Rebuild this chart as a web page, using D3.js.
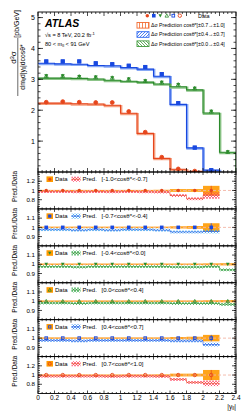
<!DOCTYPE html>
<html>
<head>
<meta charset="utf-8">
<script src="https://cdnjs.cloudflare.com/ajax/libs/d3/7.8.5/d3.min.js"></script>
<style>
  body { margin: 0; background: #fff; }
  text { font-family: "Liberation Sans", Arial, Helvetica, sans-serif; fill: #000; }
</style>
</head>
<body>
<svg id="chart" width="249" height="411"></svg>
<script>
// bin edges in |y_ll|
var edges = [0, 0.2, 0.4, 0.6, 0.8, 1.0, 1.2, 1.4, 1.6, 1.8, 2.0, 2.2, 2.4];
var xTicks = [0, 0.2, 0.4, 0.6, 0.8, 1.0, 1.2, 1.4, 1.6, 1.8, 2.0, 2.2, 2.4];
var xTickLabels = ["0", "0.2", "0.4", "0.6", "0.8", "1", "1.2", "1.4", "1.6", "1.8", "2", "2.2", "2.4"];
var mainYTicks = [1, 2, 3, 4, 5];

// main panel, prediction (step) and data values [pb/GeV]
var predRed   = [2.23, 2.23, 2.21, 2.20, 2.16, 1.90, 1.25, 0.44, 0.09, 0.02, 0.01];
var dataRed   = [2.26, 2.28, 2.26, 2.25, 2.25, 1.96, 1.29, 0.48, 0.10, 0.03, 0.01];
var predBlue  = [3.52, 3.50, 3.49, 3.45, 3.44, 3.38, 3.33, 3.10, 2.19, 0.78, 0.06];
var dataBlue  = [3.58, 3.58, 3.58, 3.52, 3.49, 3.44, 3.40, 3.17, 2.23, 0.79, 0.06];
var predGreen = [3.04, 3.04, 3.03, 3.01, 2.97, 2.94, 2.91, 2.85, 2.76, 2.66, 1.91, 0.64];
var dataGreen = [3.11, 3.11, 3.09, 3.07, 3.05, 3.01, 2.95, 2.90, 2.83, 2.71, 1.96, 0.65];

var legendLabels = ["\u0394\u03c3 Prediction cos\u03b8*[\u00b10.7\u2192\u00b11.0]",
                    "\u0394\u03c3 Prediction cos\u03b8*[\u00b10.4\u2192\u00b10.7]",
                    "\u0394\u03c3 Prediction cos\u03b8*[\u00b10.0\u2192\u00b10.4]"];

// ratio panels: Pred./Data
var panelLabels = ["[-1.0<cos\u03b8*<-0.7]", "[-0.7<cos\u03b8*<-0.4]", "[-0.4<cos\u03b8*<0.0]",
                   "[0.0<cos\u03b8*<0.4]", "[0.4<cos\u03b8*<0.7]", "[0.7<cos\u03b8*<1.0]"];
var ratioPred1 = [0.975, 0.975, 0.97, 0.975, 0.97, 0.975, 0.97, 0.965, 0.89, 0.82, 0.89];
var ratioPred2 = [0.975, 0.975, 0.97, 0.975, 0.97, 0.975, 0.975, 0.97, 0.95, 0.95, 0.955];
var ratioPred3 = [0.975, 0.975, 0.97, 0.975, 0.975, 0.975, 0.975, 0.975, 0.97, 0.97, 0.975, 0.94];
var ratioPred4 = [0.98, 0.98, 0.975, 0.98, 0.98, 0.98, 0.98, 0.98, 0.975, 0.975, 0.975, 0.965];
var ratioPred5 = [0.975, 0.975, 0.97, 0.975, 0.975, 0.975, 0.975, 0.975, 0.97, 0.97, 0.93];
var ratioPred6 = [0.975, 0.975, 0.975, 0.975, 0.97, 0.975, 0.975, 0.97, 0.905, 0.84, 0.82];
var predErr1 = [0.03, 0.03, 0.03, 0.03, 0.03, 0.03, 0.03, 0.03, 0.03, 0.03, 0.07];
var predErr2 = [0.015, 0.015, 0.015, 0.015, 0.015, 0.015, 0.015, 0.015, 0.015, 0.015, 0.02];
var predErr3 = [0.015, 0.015, 0.015, 0.015, 0.015, 0.015, 0.015, 0.015, 0.015, 0.015, 0.015, 0.015];
var predErr4 = [0.015, 0.015, 0.015, 0.015, 0.015, 0.015, 0.015, 0.015, 0.015, 0.015, 0.015, 0.015];
var predErr5 = [0.015, 0.015, 0.015, 0.015, 0.015, 0.015, 0.015, 0.015, 0.015, 0.015, 0.02];
var predErr6 = [0.03, 0.03, 0.03, 0.03, 0.03, 0.03, 0.03, 0.03, 0.03, 0.03, 0.06];
var dataErr1 = [0.012, 0.012, 0.012, 0.012, 0.012, 0.012, 0.012, 0.015, 0.03, 0.03, 0.10];
var dataErr2 = [0.008, 0.008, 0.008, 0.008, 0.008, 0.008, 0.008, 0.008, 0.012, 0.015, 0.045];
var dataErr3 = [0.008, 0.008, 0.008, 0.008, 0.008, 0.008, 0.008, 0.008, 0.008, 0.008, 0.01, 0.012];
var dataErr4 = [0.008, 0.008, 0.008, 0.008, 0.008, 0.008, 0.008, 0.008, 0.008, 0.008, 0.01, 0.012];
var dataErr5 = [0.008, 0.008, 0.008, 0.008, 0.008, 0.008, 0.008, 0.008, 0.012, 0.015, 0.035];
var dataErr6 = [0.012, 0.012, 0.012, 0.012, 0.012, 0.012, 0.012, 0.015, 0.03, 0.03, 0.11];

var RED = "#e6461c", BLUE = "#1848e0", GREEN = "#2b8a2b";

var svg = d3.select("#chart");
var defs = svg.append("defs");

var L = 38, R = 236;
var mainTop = 12, mainBot = 172;
var panelH = (393.5 - mainBot) / 6;

var x = d3.scaleLinear().domain([0, 2.4]).range([L, R]);
var yMain = d3.scaleLinear().domain([0, 5.18]).range([mainBot, mainTop]);

/*
 * hatch patterns
 */
function addPattern(id, color, kind, w) {
  var p = defs.append("pattern").attr("id", id)
    .attr("patternUnits", "userSpaceOnUse")
    .attr("width", 3).attr("height", 3);
  var d;
  if (kind === "x") d = "M0,0L3,3M3,0L0,3";
  else if (kind === "v") d = "M1.5,0V3";
  else if (kind === "fwd") d = "M-1,1L1,-1M0,3L3,0M2,4L4,2";
  else d = "M-1,2L1,4M0,0L3,3M2,-1L4,1";
  p.append("path").attr("d", d).attr("stroke", color).attr("stroke-width", w || 0.7).attr("fill", "none");
}
addPattern("hRed", "#f26a30", "v", 0.8);
addPattern("hBlue", "#2a66f0", "fwd", 0.8);
addPattern("hGreen", "#3f9a3a", "bwd", 0.8);
addPattern("xRed", "#ff3b5c", "x");
addPattern("xCyan", "#3aa6f2", "x");
addPattern("xGreen", "#36ae4e", "x");
addPattern("xBlue", "#2f86f0", "x");

/*
 * marker drawing
 */
function marker(g, type, cx, cy, size, color) {
  var s = size / 2;
  if (type === "circle" || type === "ocircle") {
    g.append("circle").attr("cx", cx).attr("cy", cy).attr("r", s * 0.95)
      .attr("fill", type === "circle" ? color : "none")
      .attr("stroke", color).attr("stroke-width", type === "circle" ? 0 : 0.9);
  } else if (type === "square" || type === "osquare") {
    var o = type === "square" ? 0 : 0.45;
    g.append("rect").attr("x", cx - s + o).attr("y", cy - s + o)
      .attr("width", size - 2 * o).attr("height", size - 2 * o)
      .attr("fill", type === "square" ? color : "none")
      .attr("stroke", color).attr("stroke-width", type === "square" ? 0 : 0.9);
  } else if (type === "tdown") {
    g.append("path").attr("d", "M" + (cx - s) + "," + (cy - s * 0.8) + "L" + (cx + s) + "," + (cy - s * 0.8) +
      "L" + cx + "," + (cy + s) + "Z").attr("fill", color);
  } else if (type === "tup") {
    g.append("path").attr("d", "M" + (cx - s) + "," + (cy + s * 0.8) + "L" + (cx + s) + "," + (cy + s * 0.8) +
      "L" + cx + "," + (cy - s) + "Z").attr("fill", "none").attr("stroke", color).attr("stroke-width", 0.8);
  }
}

/*
 * ticks along frame (inside, ROOT style)
 */
function frameTicks(top, bot, yScale, yMajor, yMinor, lenY, lenX) {
  var g = svg.append("g").attr("stroke", "#000").attr("stroke-width", 0.7);
  yMajor.forEach(function(v) {
    var yy = yScale(v);
    g.append("line").attr("x1", L).attr("x2", L + lenY).attr("y1", yy).attr("y2", yy);
    g.append("line").attr("x1", R).attr("x2", R - lenY).attr("y1", yy).attr("y2", yy);
  });
  yMinor.forEach(function(v) {
    var yy = yScale(v);
    if (yy <= top + 0.3 || yy >= bot - 0.3) return;
    g.append("line").attr("x1", L).attr("x2", L + lenY / 2).attr("y1", yy).attr("y2", yy);
    g.append("line").attr("x1", R).attr("x2", R - lenY / 2).attr("y1", yy).attr("y2", yy);
  });
  d3.range(0, 2.4001, 0.05).forEach(function(v, i) {
    var xx = x(v);
    var len = (i % 4 === 0) ? lenX : lenX / 2;
    g.append("line").attr("x1", xx).attr("x2", xx).attr("y1", bot).attr("y2", bot - len);
    g.append("line").attr("x1", xx).attr("x2", xx).attr("y1", top).attr("y2", top + len);
  });
  svg.append("rect").attr("x", L).attr("y", top).attr("width", R - L).attr("height", bot - top)
    .attr("fill", "none").attr("stroke", "#000").attr("stroke-width", 0.9);
}

/*
 * main panel
 */
defs.append("clipPath").attr("id", "clipMain").append("rect")
  .attr("x", L).attr("y", mainTop).attr("width", R - L).attr("height", mainBot - mainTop);
var gMain = svg.append("g").attr("clip-path", "url(#clipMain)");

var mainSeries = [
  { pred: predRed, data: dataRed, color: RED, light: "#f5a080", m1: "circle", m2: "ocircle" },
  { pred: predBlue, data: dataBlue, color: BLUE, light: "#86a8f5", m1: "square", m2: "osquare" },
  { pred: predGreen, data: dataGreen, color: GREEN, light: "#8cc488", m1: "tdown", m2: "tup" }
];

mainSeries.forEach(function(s) {
  var pts = [];
  s.pred.forEach(function(v, i) {
    pts.push([edges[i], v]);
  });
  pts.push([edges[s.pred.length], s.pred[s.pred.length - 1]]);
  var line = d3.line().x(function(d) { return x(d[0]); }).y(function(d) { return yMain(d[1]); })
    .curve(d3.curveStepAfter);
  var dPath = line(pts) + "V" + yMain(0);
  gMain.append("path").attr("d", dPath).attr("fill", "none")
    .attr("stroke", s.light).attr("stroke-width", 2.2).attr("transform", "translate(0.8,0.8)");
  gMain.append("path").attr("d", dPath).attr("fill", "none")
    .attr("stroke", s.color).attr("stroke-width", 1.1);
});
mainSeries.forEach(function(s) {
  s.data.forEach(function(v, i) {
    var cx = x((edges[i] + edges[i + 1]) / 2);
    marker(gMain, s.m2, cx, yMain(v), 4, s.color);
    marker(gMain, s.m1, cx, yMain(v), 4, s.color);
  });
});

frameTicks(mainTop, mainBot, yMain, mainYTicks, d3.range(0, 5.2, 0.2), 5, 4);

mainYTicks.forEach(function(v) {
  svg.append("text").attr("x", 35).attr("y", yMain(v) + 2.5)
    .attr("text-anchor", "end").attr("font-size", 7).text(v);
});

// y title (fraction, rotated)
var yt = svg.append("g");
yt.append("text").attr("transform", "translate(16.3,57.5) rotate(-90)")
  .attr("text-anchor", "middle").attr("font-size", 8)
  .html("d<tspan dy='-2.8' font-size='5.4'>3</tspan><tspan dy='2.8'>\u03c3</tspan>");
yt.append("line").attr("x1", 17.8).attr("x2", 17.8).attr("y1", 38).attr("y2", 96)
  .attr("stroke", "#000").attr("stroke-width", 0.6);
yt.append("text").attr("transform", "translate(24.6,67) rotate(-90)")
  .attr("text-anchor", "middle").attr("font-size", 6.8)
  .html("dm<tspan dy='1.6' font-size='4.8'>ll</tspan><tspan dy='-1.6'>d|y</tspan>" +
        "<tspan dy='1.6' font-size='4.8'>ll</tspan><tspan dy='-1.6'>|dcos\u03b8*</tspan>");
yt.append("text").attr("transform", "translate(18.5,10) rotate(-90)")
  .attr("text-anchor", "end").attr("font-size", 7).text("[pb/GeV]");

// labels
svg.append("text").attr("x", 45).attr("y", 26.5).attr("font-size", 10.5)
  .attr("font-weight", "bold").attr("font-style", "italic").text("ATLAS");
svg.append("text").attr("x", 45).attr("y", 36.6).attr("font-size", 5.6)
  .html("\u221as = 8 TeV, 20.2 fb<tspan dy='-2' font-size='4'>-1</tspan>");
svg.append("text").attr("x", 45).attr("y", 45.6).attr("font-size", 5.6)
  .html("80 &lt; m<tspan dy='1.5' font-size='4'>ll</tspan><tspan dy='-1.5'> &lt; 91 GeV</tspan>");

// legend
var legMarkers = [["circle", RED], ["square", BLUE], ["tdown", GREEN], ["tup", GREEN], ["osquare", BLUE], ["ocircle", RED]];
legMarkers.forEach(function(m, i) {
  marker(svg, m[0], 147.3 + i * 6.5, 15.7, 3.6, m[1]);
});
svg.append("text").attr("x", 198).attr("y", 17.6).attr("font-size", 5.4).text("Data");
var legFill = ["hRed", "hBlue", "hGreen"];
var legStroke = ["#f26a30", "#2a66f0", "#3f9a3a"];
legendLabels.forEach(function(t, i) {
  var cy = 25.3 + i * 9.2;
  svg.append("rect").attr("x", 137).attr("y", cy - 2.8).attr("width", 12).attr("height", 5.6)
    .attr("fill", "url(#" + legFill[i] + ")").attr("stroke", legStroke[i]).attr("stroke-width", 0.9);
  svg.append("text").attr("x", 151).attr("y", cy + 1.9).attr("font-size", 5.2).text(t);
});

/*
 * ratio panels
 */
var panels = [
  { pred: ratioPred1, perr: predErr1, derr: dataErr1, dom: [0.6, 1.4], ticks: [0.8, 1, 1.2], minor: 0.05,
    m: "circle", mc: RED, pat: "xRed", pc: "#ff3b5c" },
  { pred: ratioPred2, perr: predErr2, derr: dataErr2, dom: [0.8, 1.2], ticks: [0.9, 1, 1.1], minor: 0.02,
    m: "square", mc: BLUE, pat: "xCyan", pc: "#3aa6f2" },
  { pred: ratioPred3, perr: predErr3, derr: dataErr3, dom: [0.8, 1.2], ticks: [0.9, 1, 1.1], minor: 0.02,
    m: "tdown", mc: GREEN, pat: "xGreen", pc: "#36ae4e" },
  { pred: ratioPred4, perr: predErr4, derr: dataErr4, dom: [0.8, 1.2], ticks: [0.9, 1, 1.1], minor: 0.02,
    m: "tup", mc: GREEN, pat: "xGreen", pc: "#36ae4e" },
  { pred: ratioPred5, perr: predErr5, derr: dataErr5, dom: [0.8, 1.2], ticks: [0.9, 1, 1.1], minor: 0.02,
    m: "osquare", mc: BLUE, pat: "xBlue", pc: "#2f86f0" },
  { pred: ratioPred6, perr: predErr6, derr: dataErr6, dom: [0.6, 1.4], ticks: [0.8, 1, 1.2], minor: 0.05,
    m: "ocircle", mc: RED, pat: "xRed", pc: "#ff3b5c" }
];

panels.forEach(function(p, k) {
  var top = mainBot + k * panelH, bot = top + panelH;
  var y = d3.scaleLinear().domain(p.dom).range([bot, top]);
  var cid = "clipP" + k;
  defs.append("clipPath").attr("id", cid).append("rect")
    .attr("x", L).attr("y", top).attr("width", R - L).attr("height", bot - top);
  var g = svg.append("g").attr("clip-path", "url(#" + cid + ")");

  // data uncertainty band
  p.derr.forEach(function(e, i) {
    g.append("rect").attr("x", x(edges[i])).attr("width", x(edges[i + 1]) - x(edges[i]))
      .attr("y", y(1 + e)).attr("height", Math.max(y(1 - e) - y(1 + e), 1.2))
      .attr("fill", "#ff9a00").attr("opacity", 0.9);
  });
  g.append("line").attr("x1", x(0)).attr("x2", x(2.4)).attr("y1", y(1)).attr("y2", y(1))
    .attr("stroke", "#f3b6a6").attr("stroke-width", 0.9).attr("stroke-dasharray", "3,2");

  // prediction band
  p.pred.forEach(function(v, i) {
    var e = p.perr[i];
    g.append("rect").attr("x", x(edges[i])).attr("width", x(edges[i + 1]) - x(edges[i]))
      .attr("y", y(v + e)).attr("height", y(v - e) - y(v + e))
      .attr("fill", "url(#" + p.pat + ")");
  });
  var pts = p.pred.map(function(v, i) { return [edges[i], v]; });
  pts.push([edges[p.pred.length], p.pred[p.pred.length - 1]]);
  g.append("path").attr("d", d3.line().x(function(d) { return x(d[0]); })
      .y(function(d) { return y(d[1]); }).curve(d3.curveStepAfter)(pts))
    .attr("fill", "none").attr("stroke", p.mc).attr("stroke-width", 0.7).attr("opacity", 0.8);

  // data points
  p.derr.forEach(function(e, i) {
    var cx = x((edges[i] + edges[i + 1]) / 2);
    g.append("line").attr("x1", cx).attr("x2", cx).attr("y1", y(1 + e)).attr("y2", y(1 - e))
      .attr("stroke", p.mc).attr("stroke-width", 0.7);
    marker(g, p.m, cx, y(1), 3.6, p.mc);
  });

  frameTicks(top, bot, y, p.ticks, d3.range(p.dom[0], p.dom[1] + 0.0001, p.minor), 4, 3);

  p.ticks.forEach(function(v) {
    svg.append("text").attr("x", 35).attr("y", y(v) + 2.2).attr("text-anchor", "end")
      .attr("font-size", 6.2).text(v);
  });
  svg.append("text").attr("transform", "translate(16.5," + (top - 1) + ") rotate(-90)")
    .attr("text-anchor", "end").attr("font-size", 6.5).text("Pred./Data");

  // panel legend
  var ly = top + 7.2;
  svg.append("rect").attr("x", 46.5).attr("y", ly - 2.8).attr("width", 6.5).attr("height", 5.6)
    .attr("fill", "#ff9a00");
  marker(svg, p.m, 49.75, ly, 3.2, p.mc);
  svg.append("text").attr("x", 55).attr("y", ly + 2).attr("font-size", 6).text("Data");
  svg.append("rect").attr("x", 71.5).attr("y", ly - 2.5).attr("width", 9).attr("height", 5)
    .attr("fill", "url(#" + p.pat + ")");
  svg.append("line").attr("x1", 71.5).attr("x2", 80.5).attr("y1", ly).attr("y2", ly)
    .attr("stroke", p.mc).attr("stroke-width", 0.7);
  svg.append("text").attr("x", 82.5).attr("y", ly + 2).attr("font-size", 6).text("Pred.");
  svg.append("text").attr("x", 101.5).attr("y", ly + 2).attr("font-size", 6).text(panelLabels[k]);
});

// x axis labels
xTicks.forEach(function(v, i) {
  svg.append("text").attr("x", x(v)).attr("y", 400.3).attr("text-anchor", "middle")
    .attr("font-size", 6.5).text(xTickLabels[i]);
});
svg.append("text").attr("x", 236).attr("y", 408.5).attr("text-anchor", "end").attr("font-size", 6.5)
  .html("|y<tspan dy='1.5' font-size='4.5'>ll</tspan><tspan dy='-1.5'>|</tspan>");
</script>
</body>
</html>
